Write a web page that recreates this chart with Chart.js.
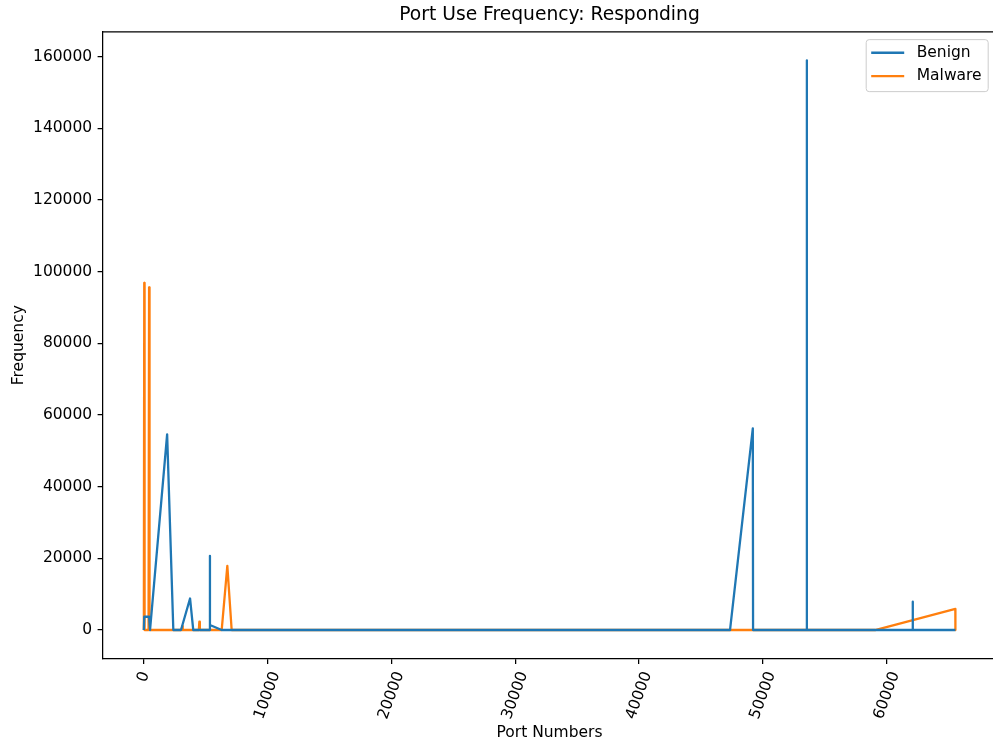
<!DOCTYPE html>
<html>
<head>
<meta charset="utf-8">
<title>Port Use Frequency: Responding</title>
<script src="https://cdn.jsdelivr.net/npm/chart.js@4.4.0/dist/chart.umd.min.js"></script>
<style>
  html, body { margin: 0; padding: 0; background: #fff; overflow: hidden; }
  canvas { display: block; }
</style>
</head>
<body>
<canvas id="portChart" width="997" height="744"></canvas>
<script>
// Responding port counts, benign vs malware traffic
const benignPorts = [20, 53, 443, 520, 1900, 2400, 3020, 3750, 4010, 5340, 5353, 5360, 6305,
  47340, 49180, 49200, 53530, 53540, 53550, 62080, 62090, 62100, 65535];
const benignCounts = [0, 3700, 3700, 0, 54600, 0, 0, 8800, 0, 0, 20700, 1400, 0,
  0, 56300, 0, 0, 159000, 0, 0, 7900, 0, 0];

const malwarePorts = [20, 53, 80, 400, 443, 480, 3080, 3120, 3160, 4460, 4500, 4540, 6305, 6760, 7110,
  59050, 65530, 65535];
const malwareCounts = [0, 96900, 0, 0, 95650, 0, 0, 1100, 0, 0, 2300, 0, 0, 17900, 0,
  0, 5900, 0];

const seriesLabels = ["Benign", "Malware"];
const seriesColors = ["#1f77b4", "#ff7f0e"];

const FONT = '"DejaVu Sans"';
const TICK_SIZE = 15.5;

Chart.defaults.font.family = FONT;
Chart.defaults.color = "#000";

const toPoints = (xs, ys) => xs.map((p, i) => ({ x: p, y: ys[i] }));

// top/right spines, rotated x labels and the boxed legend inside the axes
const frameAndLabels = {
  id: "frameAndLabels",
  afterDraw(chart) {
    const { ctx, chartArea: a } = chart;
    const xs = chart.scales.x;
    ctx.save();

    ctx.strokeStyle = "#000";
    ctx.lineWidth = 1.25;
    ctx.beginPath();
    ctx.moveTo(a.left, a.top);
    ctx.lineTo(a.right, a.top);
    ctx.lineTo(a.right, a.bottom);
    ctx.stroke();

    ctx.font = TICK_SIZE + "px " + FONT;
    ctx.fillStyle = "#000";
    ctx.textAlign = "center";
    ctx.textBaseline = "middle";
    const ang = 70 * Math.PI / 180;
    xs.ticks.forEach(t => {
      const label = String(t.value);
      const w = ctx.measureText(label).width;
      const h = TICK_SIZE * 1.17;
      const bh = w * Math.sin(ang) + h * Math.cos(ang);
      ctx.save();
      ctx.translate(xs.getPixelForValue(t.value), a.bottom + 10.8 + bh / 2);
      ctx.rotate(-ang);
      ctx.fillText(label, 0, 0);
      ctx.restore();
    });

    const boxW = 122, boxH = 52;
    const left = a.right - 7.8 - boxW;
    const top = a.top + 7.8;
    ctx.beginPath();
    ctx.roundRect(left, top, boxW, boxH, 3);
    ctx.fillStyle = "rgba(255,255,255,0.8)";
    ctx.fill();
    ctx.strokeStyle = "#cccccc";
    ctx.lineWidth = 1;
    ctx.stroke();

    ctx.textAlign = "left";
    chart.data.datasets.forEach((ds, i) => {
      const y = top + 13.1 + i * 23.3;
      ctx.strokeStyle = ds.borderColor;
      ctx.lineWidth = 2.3;
      ctx.beginPath();
      ctx.moveTo(left + 5, y);
      ctx.lineTo(left + 38, y);
      ctx.stroke();
      ctx.fillStyle = "#000";
      ctx.fillText(ds.label, left + 50.5, y);
    });

    ctx.restore();
  }
};

const lineStyle = {
  pointRadius: 0,
  borderWidth: 2.3,
  borderJoinStyle: "round",
  borderCapStyle: "butt",
  tension: 0,
  fill: false
};

new Chart(document.getElementById("portChart"), {
  type: "line",
  data: {
    datasets: [
      { label: seriesLabels[0], data: toPoints(benignPorts, benignCounts), borderColor: seriesColors[0], ...lineStyle },
      { label: seriesLabels[1], data: toPoints(malwarePorts, malwareCounts), borderColor: seriesColors[1], ...lineStyle }
    ]
  },
  plugins: [frameAndLabels],
  options: {
    responsive: false,
    animation: false,
    devicePixelRatio: 1,
    layout: { padding: { left: 0, right: 1, top: 0, bottom: 0 } },
    plugins: {
      legend: { display: false },
      tooltip: { enabled: false },
      title: {
        display: true,
        text: "Port Use Frequency: Responding",
        fullSize: false,
        color: "#000",
        font: { size: 18.7, weight: "normal" },
        padding: { top: 4, bottom: 5.4 }
      }
    },
    scales: {
      x: {
        type: "linear",
        min: -3277,
        max: 68812,
        afterFit: s => { s.height = 85.5; },
        border: { color: "#000", width: 1.25 },
        grid: { drawOnChartArea: false, tickLength: 5.4, color: "#000", lineWidth: 1.25 },
        ticks: { display: false, maxTicksLimit: 11, includeBounds: false, autoSkip: false, maxRotation: 0 },
        title: {
          display: true,
          text: "Port Numbers",
          color: "#000",
          font: { size: TICK_SIZE },
          padding: { top: 0, bottom: 1.7 }
        }
      },
      y: {
        min: -7950,
        max: 166950,
        afterFit: s => { s.width = 103; },
        border: { color: "#000", width: 1.25 },
        grid: { drawOnChartArea: false, tickLength: 5.4, color: "#000", lineWidth: 1.25 },
        ticks: {
          maxTicksLimit: 11,
          includeBounds: false,
          padding: 5.4,
          color: "#000",
          font: { size: TICK_SIZE },
          callback: v => String(v)
        },
        title: {
          display: true,
          text: "Frequency",
          color: "#000",
          font: { size: TICK_SIZE },
          padding: { top: 9.5, bottom: 0 }
        }
      }
    }
  }
});
</script>
</body>
</html>
